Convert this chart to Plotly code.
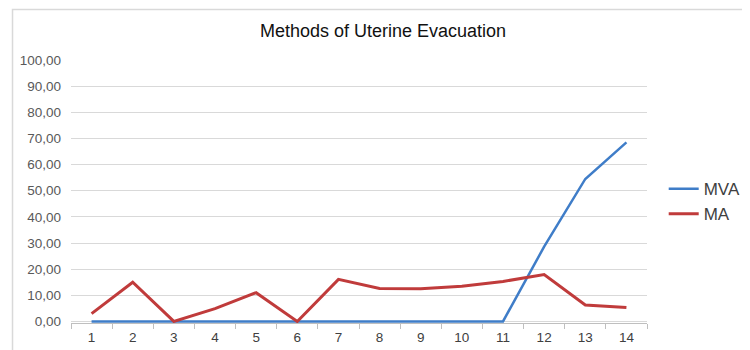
import plotly.graph_objects as go

categories = [str(i) for i in range(1, 15)]
mva = [0, 0, 0, 0, 0, 0, 0, 0, 0, 0, 0, 28.6, 54.5, 68.5]
ma = [3.0, 15.0, 0, 4.9, 11.0, 0, 16.1, 12.6, 12.5, 13.5, 15.3, 17.9, 6.3, 5.3]
y_ticks = [0, 10, 20, 30, 40, 50, 60, 70, 80, 90, 100]

W, H = 750, 350
L, R, T, B = 61, 108, 52, 35.4

fig = go.Figure()
fig.add_trace(go.Scatter(x=categories, y=mva, name="MVA", mode="lines", legendgroup="a",
                         line=dict(color="#3F7DC8", width=2.5)))
fig.add_trace(go.Scatter(x=categories, y=ma, name="MA", mode="lines", legendgroup="b",
                         line=dict(color="#C03B3B", width=3)))

pw = W - L - R
ph = H - T - B
fig.add_shape(type="rect", xref="paper", yref="paper",
              x0=(-L + 2) / pw, x1=(W - L - 2) / pw,
              y0=(-B + 2) / ph, y1=(H - B - 1.5) / ph,
              line=dict(color="#D9D9D9", width=1.5), layer="below")

fig.update_layout(
    width=W, height=H,
    margin=dict(l=L, r=R, t=T, b=B),
    paper_bgcolor="white", plot_bgcolor="white",
    separators=",.",
    font=dict(family="Liberation Sans, Arial, sans-serif", color="#595959", size=13.5),
    title=dict(text="Methods of Uterine Evacuation", x=0.5, xref="container",
               y=1 - 23 / H, yref="container", yanchor="middle",
               font=dict(size=18, color="#111111")),
    showlegend=True,
    legend=dict(x=1.029, xanchor="left", y=(H - B - 163) / ph, yanchor="top",
                font=dict(size=17, color="#404040"), bgcolor="rgba(0,0,0,0)",
                traceorder="grouped", tracegroupgap=0),
    xaxis=dict(type="category", range=[-0.5, 13.5], showgrid=False,
               showline=True, linecolor="#BFBFBF", linewidth=1,
               ticks="outside", tickson="boundaries", ticklen=5, tickcolor="#BFBFBF",
               ticklabelstandoff=2,
               tickfont=dict(size=13.5, color="#404040"), fixedrange=True),
    yaxis=dict(range=[-0.6, 100], tickvals=y_ticks, tickformat=".2f",
               showgrid=True, gridcolor="#D9D9D9", gridwidth=1,
               zeroline=False, showline=False, ticks="", ticklabelstandoff=9,
               tickfont=dict(size=13.5, color="#595959"), fixedrange=True),
)

fig.write_html("out.html")
